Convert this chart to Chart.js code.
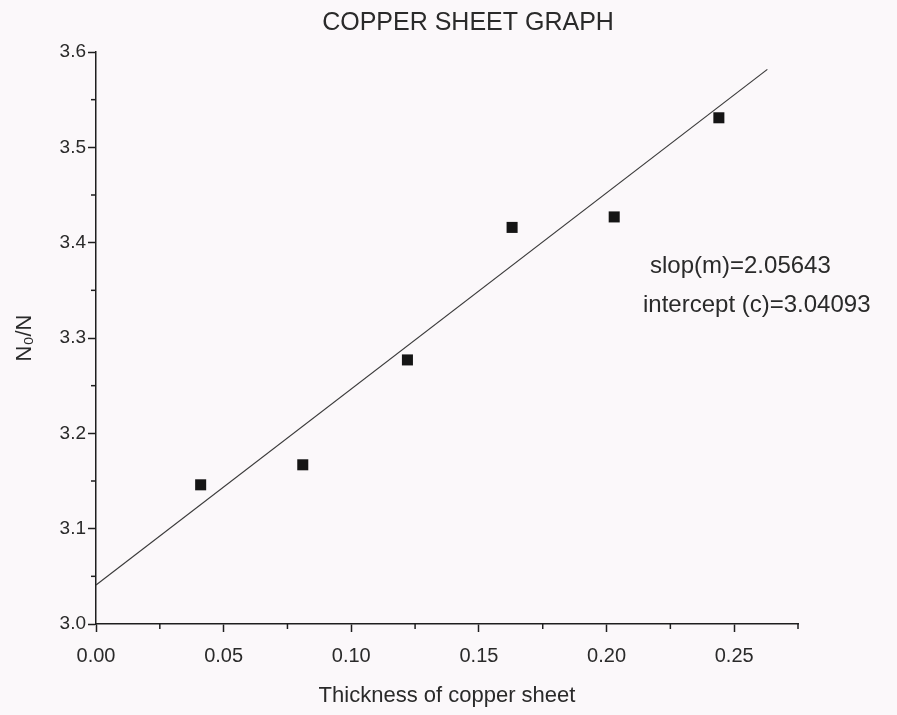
<!DOCTYPE html>
<html>
<head>
<meta charset="utf-8">
<script src="https://cdn.jsdelivr.net/npm/chart.js@4/dist/chart.umd.min.js"></script>
<style>
  html, body { margin: 0; padding: 0; background: #fbf8fa; }
  #myChart { display: block; }
</style>
</head>
<body>
<canvas id="myChart" width="897" height="715"></canvas>
<script>
// measured points
var thickness = [0.041, 0.081, 0.122, 0.163, 0.203, 0.244];
var ratio = [3.146, 3.167, 3.277, 3.416, 3.427, 3.531];

// linear fit as printed on the graph
var slope = 2.05643;
var intercept = 3.04093;
var fitEnd = 0.263;

var xTicks = [0, 0.05, 0.10, 0.15, 0.20, 0.25];
var xMinor = [0.025, 0.075, 0.125, 0.175, 0.225, 0.275];
var yMinor = [3.05, 3.15, 3.25, 3.35, 3.45, 3.55];

var ink = '#1e1e1e';
var fontName = '"Liberation Sans", Arial, sans-serif';

var extras = {
    id: 'extras',
    afterDraw: function(chart){
        var ctx = chart.ctx;
        var xs = chart.scales.x, ys = chart.scales.y;
        ctx.save();
        ctx.strokeStyle = ink;
        ctx.lineWidth = 1.5;
        xMinor.forEach(function(v){
            var px = xs.getPixelForValue(v);
            ctx.beginPath();
            ctx.moveTo(px, ys.bottom);
            ctx.lineTo(px, ys.bottom + 5);
            ctx.stroke();
        });
        yMinor.forEach(function(v){
            var py = ys.getPixelForValue(v);
            ctx.beginPath();
            ctx.moveTo(xs.left, py);
            ctx.lineTo(xs.left - 5, py);
            ctx.stroke();
        });
        ctx.fillStyle = '#2a2a2a';
        ctx.textBaseline = 'middle';
        ctx.textAlign = 'center';
        ctx.font = '25px ' + fontName;
        ctx.fillText('COPPER SHEET GRAPH', 468, 23);
        ctx.textAlign = 'left';
        ctx.font = '24px ' + fontName;
        ctx.fillText('slop(m)=' + slope, 650, 266);
        ctx.fillText('intercept (c)=' + intercept, 643, 305);
        ctx.restore();
    }
};

var data = {
    datasets: [{
        type: 'line',
        label: 'fit',
        data: [{x: 0, y: intercept}, {x: fitEnd, y: intercept + slope * fitEnd}],
        borderColor: '#3a3a3a',
        borderWidth: 1.2,
        pointRadius: 0,
        fill: false
    }, {
        type: 'scatter',
        label: 'N0/N',
        data: thickness.map(function(t, i){ return {x: t, y: ratio[i]}; }),
        pointStyle: 'rect',
        pointRadius: 7.8,
        backgroundColor: '#151515',
        borderColor: '#151515',
        borderWidth: 0
    }]
};

var options = {
    responsive: false,
    animation: false,
    layout: { padding: { top: 52, right: 99, left: 0, bottom: 0 } },
    plugins: {
        legend: { display: false },
        tooltip: { enabled: false }
    },
    scales: {
        x: {
            type: 'linear',
            min: 0,
            max: 0.275,
            afterBuildTicks: function(scale){
                scale.ticks = xTicks.map(function(v){ return {value: v}; });
            },
            afterFit: function(scale){ scale.height = 91; },
            grid: { drawOnChartArea: false, tickLength: 8, tickColor: ink, tickWidth: 1.5 },
            border: { color: ink, width: 1.5 },
            ticks: {
                color: '#2a2a2a',
                padding: 12,
                maxRotation: 0,
                font: { family: fontName, size: 20 },
                callback: function(v){ return Number(v).toFixed(2); }
            },
            title: {
                display: true,
                text: 'Thickness of copper sheet',
                color: '#2a2a2a',
                font: { family: fontName, size: 22 },
                padding: { top: 0, bottom: 6 }
            }
        },
        y: {
            min: 3.0,
            max: 3.6,
            afterFit: function(scale){ scale.width = 96; },
            grid: { drawOnChartArea: false, tickLength: 8, tickColor: ink, tickWidth: 1.5 },
            border: { color: ink, width: 1.5 },
            ticks: {
                stepSize: 0.1,
                color: '#2a2a2a',
                padding: 2,
                font: { family: fontName, size: 19 },
                callback: function(v){ return Number(v).toFixed(1); }
            },
            title: {
                display: true,
                text: 'N\u2080/N',
                color: '#2a2a2a',
                font: { family: fontName, size: 22 },
                padding: { top: 12, bottom: 0 }
            }
        }
    }
};

var ctx = document.getElementById('myChart').getContext('2d');
var myChart = new Chart(ctx, {
    data: data,
    options: options,
    plugins: [extras]
});
</script>
</body>
</html>
